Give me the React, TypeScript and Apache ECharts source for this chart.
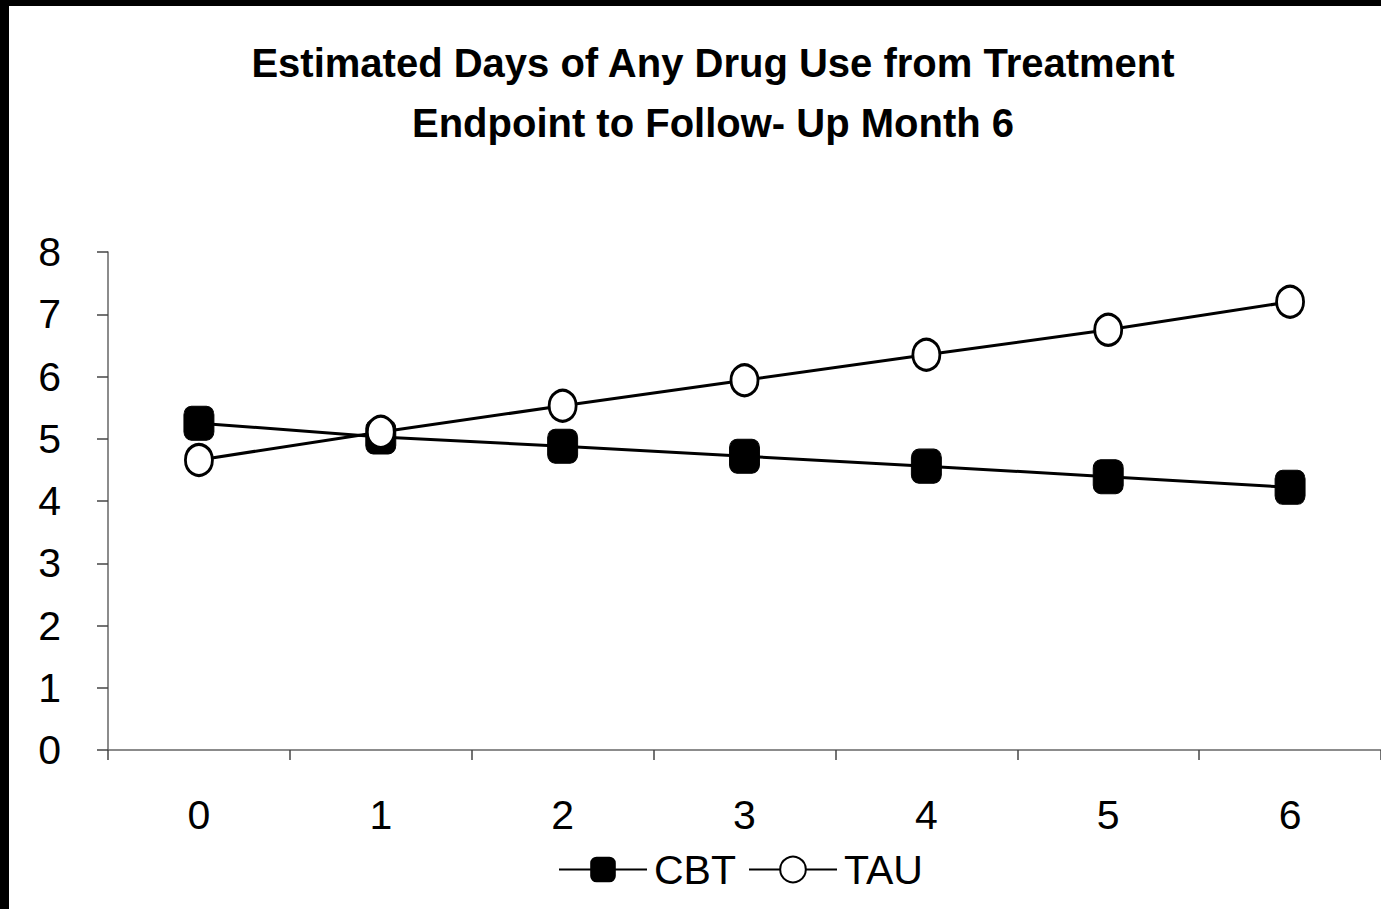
import React, { useEffect, useRef } from "react";
import * as echarts from "echarts";

const months = ["0", "1", "2", "3", "4", "5", "6"];
const cbt = [5.25, 5.03, 4.88, 4.72, 4.56, 4.39, 4.22];
const tau = [4.66, 5.11, 5.53, 5.94, 6.35, 6.75, 7.2];
const titleText = "Estimated Days of Any Drug Use from Treatment\nEndpoint to Follow- Up Month 6";

export default function App() {
  const ref = useRef<HTMLDivElement>(null);
  useEffect(() => {
    if (!ref.current) return;
    const chart = echarts.init(ref.current, null, { renderer: "svg" });
    const font = "Arial, 'Liberation Sans', sans-serif";
    chart.setOption({
      animation: false,
      backgroundColor: "#fff",
      title: {
        text: titleText,
        left: 708,
        textAlign: "center",
        top: 28,
        textStyle: {
          fontFamily: font,
          fontWeight: "bold",
          fontSize: 40,
          lineHeight: 60,
          color: "#000",
        },
      },
      graphic: [
        { type: "rect", left: 0, top: 0, shape: { width: 9, height: 909 }, style: { fill: "#000" } },
        { type: "rect", left: 0, top: 0, shape: { width: 1381, height: 6 }, style: { fill: "#000" } },
      ],
      legend: {
        bottom: 14,
        left: 553,
        itemWidth: 88,
        itemHeight: 32,
        itemGap: 12,
        textStyle: { fontFamily: font, fontSize: 41, color: "#000", padding: [0, 0, 0, 2] },
        data: ["CBT", "TAU"],
      },
      grid: { left: 108, right: -1, top: 252, bottom: 159, containLabel: false },
      xAxis: {
        type: "category",
        data: months,
        boundaryGap: true,
        axisLine: { lineStyle: { color: "#666", width: 1.5 } },
        axisTick: { show: true, length: 10, lineStyle: { color: "#444", width: 1.5 } },
        axisLabel: { fontFamily: font, fontSize: 41, color: "#000", margin: 44 },
      },
      yAxis: {
        type: "value",
        min: 0,
        max: 8,
        interval: 1,
        splitLine: { show: false },
        axisLine: { show: true, lineStyle: { color: "#666", width: 1.5 } },
        axisTick: { show: true, length: 11, lineStyle: { color: "#444", width: 1.5 } },
        axisLabel: { fontFamily: font, fontSize: 41, color: "#000", margin: 47 },
      },
      series: [
        {
          name: "CBT",
          type: "line",
          data: cbt,
          symbol: "roundRect",
          symbolSize: [30, 34],
          lineStyle: { color: "#000", width: 3 },
          itemStyle: { color: "#000", borderColor: "#000" },
        },
        {
          name: "TAU",
          type: "line",
          data: tau,
          symbol: "circle",
          symbolSize: [27, 31],
          lineStyle: { color: "#000", width: 3 },
          itemStyle: { color: "#fff", borderColor: "#000", borderWidth: 3 },
        },
      ],
    });
    return () => chart.dispose();
  }, []);
  return (
    <div
      ref={ref}
      style={{ position: "fixed", left: 0, top: 0, width: 1381, height: 909 }}
    />
  );
}
